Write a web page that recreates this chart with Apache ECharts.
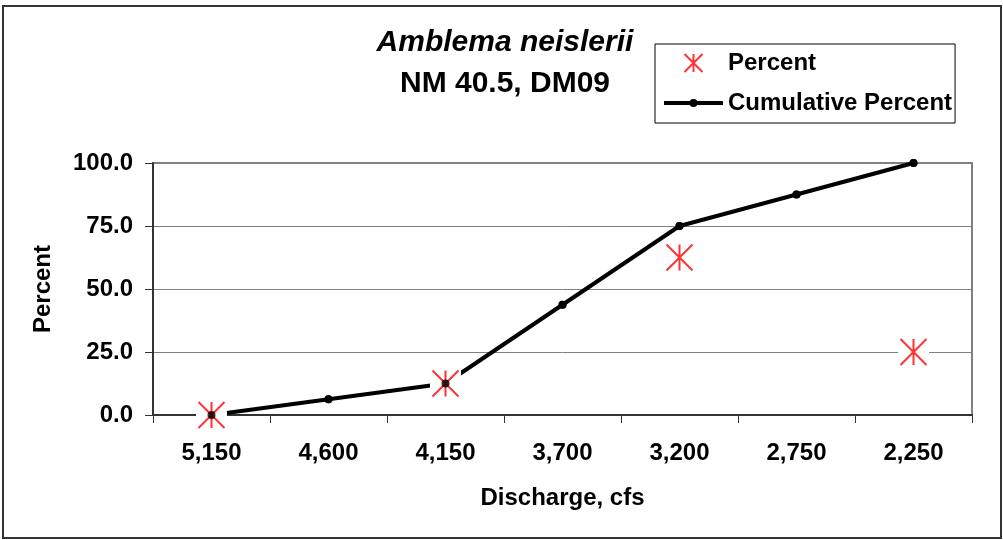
<!DOCTYPE html>
<html>
<head>
<meta charset="utf-8">
<title>Amblema neislerii</title>
<script src="https://cdn.jsdelivr.net/npm/echarts@6/dist/echarts.min.js"></script>
<style>
  html, body { margin: 0; padding: 0; background: #fff; }
  #chart { width: 1003px; height: 540px; }
</style>
</head>
<body>
<div id="chart"></div>
<script>
// discharge categories (cfs), read left to right
const discharge = ["5,150", "4,600", "4,150", "3,700", "3,200", "2,750", "2,250"];
// percent found at each discharge (blank where no point is plotted)
const percent = [0, null, 12.5, null, 62.5, null, 25];
// cumulative percent line
const cumulative = [0, 6.25, 12.5, 43.75, 75, 87.5, 100];
const yTicks = [0, 25, 50, 75, 100];

const FONT = "'Liberation Sans', Arial, sans-serif";
// excel style asterisk: an X with a vertical stroke
const asterisk = "path://M0 0L26 26M26 0L0 26M13 0L13 26";
// legend icon for the line: thick bar with a small dot in the middle
const lineDot = "path://M0 2H59V6H0Z M33.5 4A4 4 0 1 1 25.5 4A4 4 0 1 1 33.5 4Z";

const chart = echarts.init(document.getElementById("chart"));

const option = {
  animation: false,
  textStyle: { fontFamily: FONT, color: "#000" },
  title: [
    {
      text: "Amblema neislerii",
      left: 505, top: 28, textAlign: "center", padding: 0,
      textStyle: { fontFamily: FONT, fontSize: 30, fontWeight: "bold", fontStyle: "italic", color: "#000" }
    },
    {
      text: "NM 40.5, DM09",
      left: 505, top: 69, textAlign: "center", padding: 0,
      textStyle: { fontFamily: FONT, fontSize: 30, fontWeight: "bold", color: "#000" }
    }
  ],
  legend: {
    orient: "vertical",
    left: 655, top: 44,
    padding: [7, 3, 8, 9],
    itemWidth: 59, itemHeight: 18, itemGap: 16,
    borderColor: "#000", borderWidth: 1,
    textStyle: { fontFamily: FONT, fontSize: 24, fontWeight: "bold", color: "#000" },
    data: [
      { name: "Percent", icon: asterisk },
      { name: "Cumulative Percent", icon: lineDot, itemStyle: { color: "#000" } }
    ]
  },
  graphic: [
    {
      type: "rect",
      shape: { x: 3, y: 6, width: 998, height: 532 },
      style: { fill: "none", stroke: "#333", lineWidth: 2 },
      silent: true, z: -1
    }
  ],
  grid: {
    left: 153, right: 31, top: 163, bottom: 125,
    show: true, borderColor: "#808080", borderWidth: 2
  },
  xAxis: {
    type: "category",
    data: discharge,
    boundaryGap: true,
    name: "Discharge, cfs",
    nameLocation: "middle",
    nameGap: 71,
    nameTextStyle: { fontFamily: FONT, fontSize: 24, fontWeight: "bold", color: "#000" },
    axisLine: { lineStyle: { color: "#333", width: 2 } },
    axisTick: { show: true, length: 8, lineStyle: { color: "#333" } },
    axisLabel: { margin: 26, fontFamily: FONT, fontSize: 24, fontWeight: "bold", color: "#000" },
    splitLine: { show: false }
  },
  yAxis: {
    type: "value",
    min: yTicks[0], max: yTicks[yTicks.length - 1], interval: 25,
    name: "Percent",
    nameLocation: "middle",
    nameGap: 98,
    nameTextStyle: { fontFamily: FONT, fontSize: 24, fontWeight: "bold", color: "#000" },
    axisLine: { show: true, lineStyle: { color: "#333", width: 2 } },
    axisTick: { show: true, length: 8, lineStyle: { color: "#333" } },
    axisLabel: {
      margin: 20, fontFamily: FONT, fontSize: 24, fontWeight: "bold", color: "#000",
      formatter: v => v.toFixed(1)
    },
    splitLine: { show: true, lineStyle: { color: "#808080", width: 1 } }
  },
  series: [
    {
      name: "Cumulative Percent",
      type: "line",
      z: 3,
      data: cumulative,
      symbol: "circle",
      symbolSize: 8,
      showSymbol: true,
      lineStyle: { color: "#000", width: 4 },
      itemStyle: { color: "#000" }
    },
    {
      // white background behind the asterisks, as in the original
      name: "percent-bg",
      type: "scatter",
      z: 10,
      data: percent,
      symbol: "rect",
      symbolSize: [31, 31],
      itemStyle: { color: "#ffffff", opacity: 1 },
      silent: true
    },
    {
      name: "Percent",
      type: "scatter",
      z: 11,
      data: percent,
      symbol: asterisk,
      symbolSize: 26,
      itemStyle: { color: "none", borderColor: "#ff0000", borderWidth: 2 }
    },
    {
      // cumulative dots on top of the asterisks
      name: "cum-dots",
      type: "scatter",
      z: 12,
      data: cumulative,
      symbol: "circle",
      symbolSize: 8,
      itemStyle: { color: "#000" },
      silent: true
    }
  ]
};

chart.setOption(option);
</script>
</body>
</html>
